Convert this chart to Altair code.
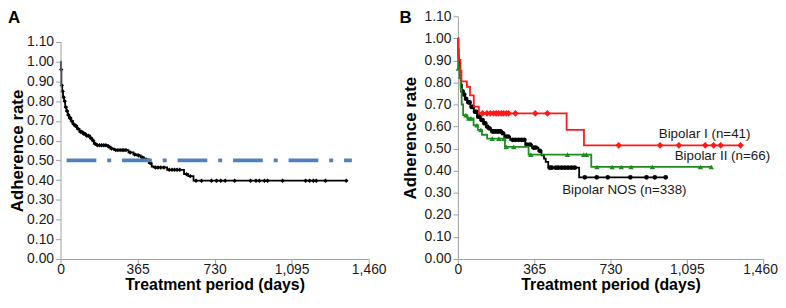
import altair as alt
import pandas as pd
import numpy as np

FONT = "Liberation Sans"
AXIS_GRAY = "#A0A0A0"

# ---------------- Panel A: overall adherence ----------------
a_days = [0, 2, 4, 8, 12, 17, 22, 28, 34, 41, 50, 58, 66, 78, 90, 105, 120, 140,
          150, 158, 168, 225, 236, 254, 322, 345, 362, 380, 395, 418, 432, 441,
          505, 585, 605, 630]
a_rate = [1.00, 0.96, 0.88, 0.85, 0.82, 0.80, 0.77, 0.75, 0.73, 0.715, 0.70, 0.685,
          0.675, 0.66, 0.645, 0.635, 0.625, 0.612, 0.60, 0.585, 0.577, 0.57, 0.56,
          0.552, 0.54, 0.53, 0.525, 0.515, 0.505, 0.486, 0.469, 0.464, 0.452, 0.43,
          0.42, 0.397]
a_end = 1354
a_censor = [3, 6, 10, 15, 20, 25, 31, 37, 44, 47, 53, 61, 70, 74, 83, 95, 100, 110,
            115, 125, 133, 145, 155, 163, 175, 185, 195, 205, 215, 228, 242, 262,
            272, 282, 292, 300, 310, 330, 352, 370, 388, 405, 425, 450, 462, 475,
            490, 515, 528, 540, 552, 565, 597, 615, 642, 668, 715, 739, 759, 780,
            825, 900, 926, 942, 966, 981, 1052, 1161, 1180, 1198, 1212, 1255, 1354]
ref_days = [10, 1380]
ref_rate = [0.5, 0.5]

# ---------------- Panel B: by diagnosis ----------------
b1_days = [0, 2, 5, 12, 17, 43, 58, 76, 100, 520, 603]
b1_rate = [1.0, 0.951, 0.902, 0.854, 0.805, 0.78, 0.741, 0.69, 0.66, 0.585, 0.515]
b1_end = 1352
b1_censor = [118, 139, 155, 171, 183, 194, 207, 218, 231, 242, 275, 370, 428, 769,
             967, 1057, 1183, 1223, 1257, 1352]

b2_days = [0, 1, 8, 13, 18, 25, 45, 75, 95, 115, 140, 225, 338, 638]
b2_rate = [1.0, 0.864, 0.82, 0.77, 0.70, 0.652, 0.637, 0.606, 0.585, 0.563, 0.545,
           0.508, 0.473, 0.417]
b2_end = 1212
b2_censor = [2, 38, 52, 62, 91, 110, 164, 196, 220, 231, 267, 349, 524, 602, 615,
             665, 738, 781, 828, 930, 1160, 1212]

b3_days = [0, 2, 5, 9, 14, 19, 26, 34, 45, 60, 76, 92, 108, 122, 135, 145, 158, 210,
           222, 250, 322, 354, 385, 400, 412, 420, 432, 580]
b3_rate = [1.0, 0.92, 0.86, 0.82, 0.79, 0.76, 0.745, 0.726, 0.71, 0.689, 0.667, 0.645,
           0.63, 0.615, 0.60, 0.592, 0.578, 0.57, 0.555, 0.54, 0.518, 0.505, 0.49,
           0.47, 0.455, 0.44, 0.414, 0.37]
b3_end = 994
b3_censor = [22, 30, 39, 50, 56, 66, 72, 82, 88, 97, 103, 113, 118, 127, 131, 140,
             150, 165, 172, 180, 188, 196, 204, 215, 230, 240, 262, 275, 290, 305,
             318, 330, 345, 362, 372, 392, 440, 449, 468, 480, 496, 512, 527, 543,
             559, 607, 664, 717, 825, 902, 942, 994]

label_text = ["Bipolar I (n=41)", "Bipolar II (n=66)", "Bipolar NOS (n=338)"]
label_x = [1180, 1265, 796]
label_y = [0.566, 0.468, 0.312]

x_ticks = [0, 365, 730, 1095, 1460]
y_ticks = [0.0, 0.1, 0.2, 0.3, 0.4, 0.5, 0.6, 0.7, 0.8, 0.9, 1.0, 1.1]

# plot geometry (both panels share a height; panel A's 1.10 sits lower)
H = 245
A_TOP = 1.1 * 245 / 219


def steps(days, rates, end):
    return pd.DataFrame({"day": list(days) + [end], "rate": list(rates) + [rates[-1]]})


def censored(days, rates, cdays):
    idx = np.searchsorted(np.array(days), np.array(cdays), side="right") - 1
    return pd.DataFrame({"day": cdays, "rate": np.array(rates)[idx]})


def xenc(last_shift=0):
    return alt.X("day:Q", scale=alt.Scale(domain=[0, 1460], nice=False, zero=False),
                 axis=alt.Axis(values=x_ticks, format=",d", labelFlush=False,
                               title="Treatment period (days)", titleFontSize=16,
                               labelPadding=-1, titlePadding=0,
                               labelOffset={"condition": {"test": "datum.value == 1460",
                                                          "value": last_shift},
                                            "value": 0}))


def yenc(top, tpad, **kw):
    return alt.Y("rate:Q", scale=alt.Scale(domain=[0, top], nice=False),
                 axis=alt.Axis(values=y_ticks, format=".2f", title="Adherence rate",
                               labelPadding=2, titlePadding=tpad, **kw))


def letter(t, x):
    return alt.Chart(pd.DataFrame({"t": [t]})).mark_text(
        font=FONT, fontSize=17, fontWeight="bold", align="left", baseline="top",
        color="#000").encode(text="t:N", x=alt.value(x), y=alt.value(-6))


# ---- Panel A ----
xA = xenc(0)
yA = yenc(A_TOP, 0, domain=False, titleY=135.5)
a_axis = alt.Chart(pd.DataFrame({"day": [0], "rate": [0.0], "rate2": [1.1]})).mark_rule(
    color=AXIS_GRAY, strokeWidth=1).encode(x=alt.value(0.5), y=yA, y2=alt.Y2("rate2"))
a_ref = alt.Chart(pd.DataFrame({"day": ref_days, "rate": ref_rate})).mark_line(
    color="#4F81BD", strokeWidth=4, strokeDash=[30, 11, 4, 11], strokeDashOffset=-4
).encode(x=xA, y=yA)
a_line = alt.Chart(steps(a_days, a_rate, a_end)).mark_line(
    interpolate="step-after", color="#000", strokeWidth=1.8).encode(x=xA, y=yA)
a_pts = alt.Chart(censored(a_days, a_rate, a_censor)).mark_point(
    shape="diamond", filled=True, color="#000", size=20, opacity=1).encode(x=xA, y=yA)
panel_a = alt.layer(a_line, a_pts, a_ref, a_axis, letter("A", -53)).properties(
    width=311, height=H)

# ---- Panel B ----
xB = xenc(-3)
yB = yenc(1.1, 5)
series = [
    (b3_days, b3_rate, b3_end, b3_censor, "#000000", "circle", 22),
    (b2_days, b2_rate, b2_end, b2_censor, "#1E8C1E", "triangle-up", 30),
    (b1_days, b1_rate, b1_end, b1_censor, "#FF1A1A", "diamond", 45),
]
b_layers = []
for d, r, e, c, col, shp, sz in series:
    b_layers.append(alt.Chart(steps(d, r, e)).mark_line(
        interpolate="step-after", color=col, strokeWidth=1.8).encode(x=xB, y=yB))
    b_layers.append(alt.Chart(censored(d, r, c)).mark_point(
        shape=shp, filled=True, color=col, size=sz, opacity=1).encode(x=xB, y=yB))
b_text = alt.Chart(pd.DataFrame({"day": label_x, "rate": label_y, "t": label_text})).mark_text(
    font=FONT, fontSize=13.5, color="#1a1a1a", align="center", baseline="middle"
).encode(x=xB, y=yB, text="t:N")
panel_b = alt.layer(*b_layers, b_text, letter("B", -59)).properties(width=308, height=H)

chart = alt.hconcat(panel_a, panel_b, spacing=90, bounds="flush", padding=0).configure_axis(
    labelFont=FONT, labelFontSize=14, labelColor="#1a1a1a", titleFont=FONT,
    titleFontSize=17, titleFontWeight="bold", titleColor="#000",
    domainColor=AXIS_GRAY, tickColor=AXIS_GRAY, tickSize=5, grid=False
).configure_view(stroke=None)

chart.save("out.html", embed_options={"renderer": "svg", "actions": False})
